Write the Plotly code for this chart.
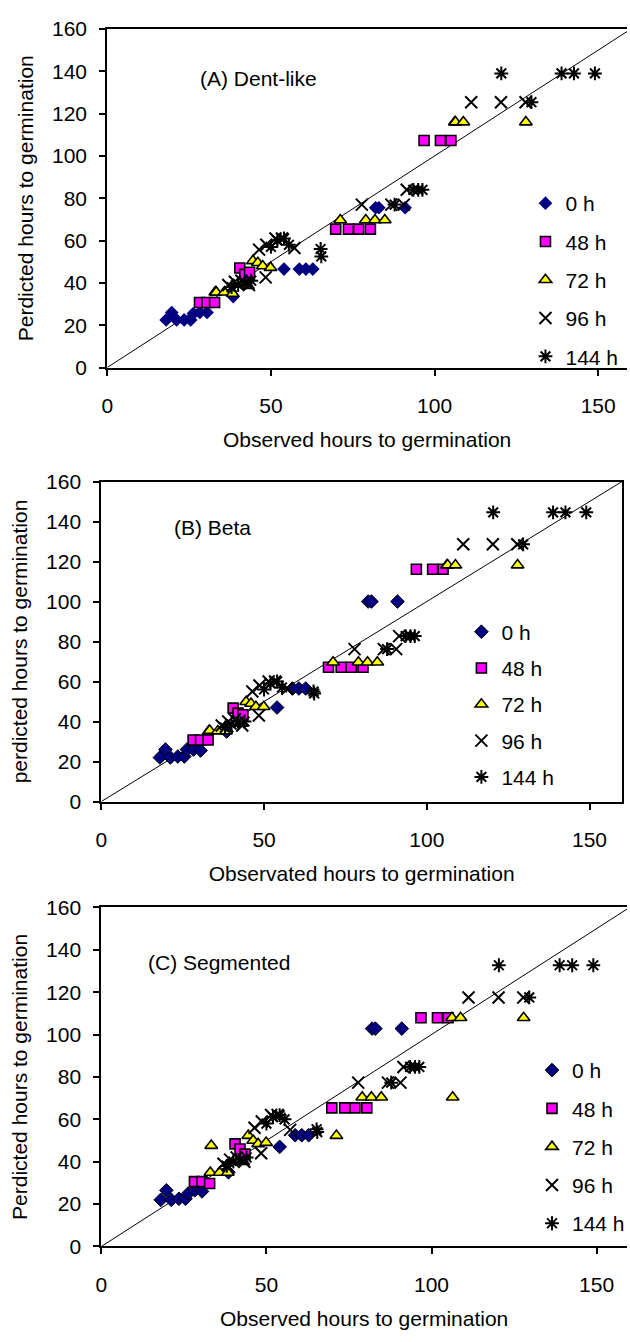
import plotly.graph_objects as go

# ---------------- data ----------------
series_names = ["0 h", "48 h", "72 h", "96 h", "144 h"]

obs_0h = [18.0, 19.7, 21.2, 23.5, 25.5, 26.3, 28.3, 30.5, 38.5, 54.0, 58.7, 60.7, 62.8, 82.0, 83.0, 91.0]
pred_A_0h = [22.5, 26.0, 22.5, 22.5, 22.5, 25.5, 26.0, 26.0, 33.5, 46.5, 46.5, 46.5, 46.5, 75.5, 75.5, 75.5]
pred_B_0h = [22.0, 26.0, 22.0, 22.5, 22.5, 26.0, 26.0, 25.5, 35.0, 47.0, 56.5, 56.5, 56.5, 100.0, 100.0, 100.0]
pred_C_0h = [22.0, 26.5, 22.0, 22.5, 22.5, 25.0, 26.5, 26.0, 35.0, 47.0, 52.5, 52.5, 52.5, 102.8, 102.8, 102.8]

obs_48h = [28.2, 30.5, 32.8, 40.5, 42.0, 43.5, 69.8, 73.7, 76.8, 80.4, 96.8, 101.8, 105.0]
pred_A_48h = [30.7, 30.7, 30.7, 47.0, 44.0, 45.0, 65.4, 65.4, 65.4, 65.4, 107.3, 107.3, 107.3]
pred_B_48h = [30.8, 30.8, 30.8, 46.7, 44.2, 43.4, 67.1, 67.1, 67.1, 67.1, 116.1, 116.1, 116.1]
pred_C_48h = [30.6, 30.6, 29.7, 48.4, 46.0, 43.6, 65.4, 65.4, 65.4, 65.4, 107.9, 107.9, 107.9]

obs_72h = [33.0, 33.3, 35.8, 38.3, 43.0, 44.5, 46.0, 47.5, 49.9, 71.2, 79.0, 81.8, 84.8, 106.2, 106.4, 108.8, 127.9]
pred_A_72h = [35.6, 35.6, 35.6, 35.0, 38.7, 50.4, 49.5, 48.0, 47.2, 69.7, 69.7, 69.7, 69.7, 116.0, 116.0, 116.0, 116.0]
pred_B_72h = [35.2, 35.5, 35.2, 35.2, 39.0, 49.9, 49.0, 47.4, 47.4, 69.6, 69.6, 69.6, 69.6, 118.2, 118.2, 118.2, 118.2]
pred_C_72h = [34.9, 47.6, 34.9, 34.9, 40.0, 52.3, 50.0, 48.4, 49.0, 52.3, 70.4, 70.4, 70.4, 107.9, 70.4, 107.9, 107.9]

obs_96h = [37.0, 39.0, 41.0, 43.3, 48.4, 46.4, 48.6, 51.4, 53.4, 57.2, 77.8, 86.8, 90.6, 91.5, 111.2, 120.3, 127.8]
pred_A_96h = [39.0, 40.5, 41.0, 39.0, 42.6, 55.7, 58.0, 61.0, 61.0, 56.5, 77.0, 77.0, 77.0, 84.0, 125.4, 125.4, 125.4]
pred_B_96h = [38.0, 40.0, 41.0, 38.0, 43.0, 55.0, 58.0, 60.0, 60.0, 56.5, 76.2, 76.2, 76.2, 82.7, 128.6, 128.6, 128.6]
pred_C_96h = [39.0, 41.0, 42.0, 40.0, 44.0, 56.0, 59.0, 62.0, 62.0, 55.0, 77.3, 77.3, 77.3, 84.7, 117.5, 117.5, 117.5]

obs_144h = [38.0, 40.0, 42.0, 44.0, 50.0, 52.0, 54.0, 55.5, 65.2, 65.4, 87.8, 93.5, 95.0, 96.3, 120.4, 129.6, 138.8, 142.6, 149.0]
pred_A_144h = [38.0, 39.0, 40.0, 41.0, 57.0, 60.0, 61.0, 58.0, 56.0, 52.5, 77.0, 84.0, 84.0, 84.0, 139.0, 125.4, 139.0, 139.0, 139.0]
pred_B_144h = [37.0, 38.5, 40.0, 40.0, 56.0, 59.0, 60.0, 57.0, 55.0, 54.0, 76.2, 82.7, 82.7, 82.7, 144.6, 128.6, 144.6, 144.6, 144.6]
pred_C_144h = [38.0, 40.0, 41.0, 42.0, 58.0, 61.0, 62.0, 60.0, 55.3, 54.0, 77.3, 84.7, 84.7, 84.7, 132.7, 117.5, 132.7, 132.7, 132.7]

panel_labels = ["(A) Dent-like", "(B) Beta", "(C) Segmented"]
x_titles = ["Observed hours to germination", "Observated hours to germination", "Observed hours to germination"]
y_titles = ["Perdicted hours to germination", "perdicted hours to germination", "Perdicted hours to germination"]
x_ticks = [0, 50, 100, 150]
y_ticks = [0, 20, 40, 60, 80, 100, 120, 140, 160]
diag = [0, 160]

# ---------------- styling ----------------
FONT = "Liberation Sans, Arial, sans-serif"
FS = 21
W, H = 630, 1342

observed = [obs_0h, obs_48h, obs_72h, obs_96h, obs_144h]
predicted = [
    [pred_A_0h, pred_A_48h, pred_A_72h, pred_A_96h, pred_A_144h],
    [pred_B_0h, pred_B_48h, pred_B_72h, pred_B_96h, pred_B_144h],
    [pred_C_0h, pred_C_48h, pred_C_72h, pred_C_96h, pred_C_144h],
]

def marker_style(i, panel):
    if i == 0:
        lw = 0 if panel == 0 else 1
        return dict(symbol="diamond", size=10.5, color="#000080", line=dict(width=lw, color="black"))
    if i == 1:
        return dict(symbol="square", size=10, color="#FF00FF", line=dict(width=1.6, color="black"))
    if i == 2:
        return dict(symbol="triangle-up", size=11, color="#FFFF00", line=dict(width=1.6, color="black"))
    if i == 3:
        return dict(symbol="x-thin-open", size=12, color="black", line=dict(width=2, color="black"))
    return dict(symbol="asterisk-open", size=11.5, color="black", line=dict(width=2, color="black"))

# panel geometry in pixels (left, right, top, bottom) and x range max
geom = [
    (102.7, 630.0, 17.3, 361.7, 158.8),
    (96.7, 625.0, 477.7, 803.3, 160.0),
    (96.7, 630.0, 911.0, 1256.0, 159.2),
]
legend_pos = [(527, 174), (462, 610), (534, 1056)]
legend_gap = [8, 6, 8]
label_pos = [(27.8, 136.4), (21.6, 137.2), (13.4, 134.2)]

fig = go.Figure()
annotations = []
layout = {}

for p in range(3):
    sfx = "" if p == 0 else str(p + 1)
    xa, ya = "x" + sfx, "y" + sfx
    leg = "legend" if p == 0 else "legend" + str(p + 1)
    fig.add_trace(go.Scatter(x=diag, y=diag, mode="lines", line=dict(color="black", width=1),
                             xaxis=xa, yaxis=ya, showlegend=False, hoverinfo="skip"))
    for i in range(5):
        fig.add_trace(go.Scatter(
            x=observed[i], y=predicted[p][i], mode="markers", name=series_names[i],
            marker=marker_style(i, p), xaxis=xa, yaxis=ya, legend=leg,
            legendgroup=f"p{p}s{i}",
        ))
    l, r, t, b, xmax = geom[p]
    layout["xaxis" + sfx] = dict(
        domain=[l / W, r / W], range=[0, xmax], anchor=ya,
        tickvals=x_ticks, ticks="outside", ticklen=6, tickwidth=1.5, tickcolor="black",
        ticklabelstandoff=12,
        showline=True, linecolor="black", linewidth=2, mirror=True,
        showgrid=False, zeroline=False,
        tickfont=dict(family=FONT, size=FS, color="black"),
        title=dict(text=x_titles[p], font=dict(family=FONT, size=FS, color="black"), standoff=17),
    )
    layout["yaxis" + sfx] = dict(
        domain=[1 - b / H, 1 - t / H], range=[0, 160], anchor=xa,
        tickvals=y_ticks, ticks="outside", ticklen=6, tickwidth=1.5, tickcolor="black",
        ticklabelstandoff=8,
        showline=True, linecolor="black", linewidth=2, mirror=(p == 1),
        showgrid=False, zeroline=False,
        tickfont=dict(family=FONT, size=FS, color="black"),
        title=dict(text=y_titles[p], font=dict(family=FONT, size=FS, color="black"), standoff=13),
    )
    lx, ly = legend_pos[p]
    layout[leg] = dict(
        x=lx / W, y=1 - ly / H, xanchor="left", yanchor="top",
        bgcolor="rgba(255,255,255,0)", borderwidth=0,
        font=dict(family=FONT, size=FS, color="black"),
        tracegroupgap=legend_gap[p], itemwidth=30,
    )
    ax, ay = label_pos[p]
    annotations.append(dict(
        x=ax, y=ay, xref=xa, yref=ya, text=panel_labels[p], showarrow=False,
        xanchor="left", yanchor="middle", font=dict(family=FONT, size=FS, color="black"),
    ))

fig.update_layout(
    width=W, height=H, margin=dict(l=0, r=0, t=0, b=0),
    paper_bgcolor="white", plot_bgcolor="white",
    annotations=annotations, **layout,
)

fig.write_html(
    "out.html",
    config={"displayModeBar": False},
    post_script="document.body.style.margin='0';document.body.style.overflow='hidden';",
)
